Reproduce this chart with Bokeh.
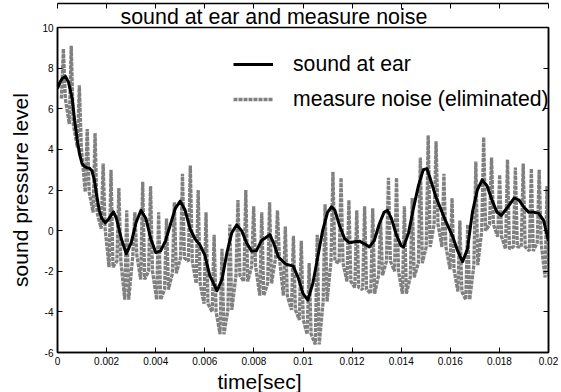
from bokeh.plotting import figure
from bokeh.models import LinearAxis, FixedTicker, Legend, LegendItem, Title, Range1d
from bokeh.embed import file_html
from bokeh.resources import INLINE

# ---- data ----
sound_t = [0.0, 0.0001, 0.0002, 0.00033, 0.00045, 0.0006, 0.0007, 0.0008, 0.0009, 0.001,
           0.0011, 0.0012, 0.0013, 0.0014, 0.0015, 0.0016, 0.0017, 0.0018, 0.00195, 0.0021,
           0.00228, 0.0024, 0.0026, 0.0028, 0.003, 0.0032, 0.0034, 0.0036, 0.0038, 0.004,
           0.0042, 0.0044, 0.0046, 0.0048, 0.005, 0.0052, 0.0054, 0.0056, 0.0058, 0.006,
           0.0062, 0.0065, 0.0067, 0.0069, 0.0071, 0.0073, 0.0075, 0.0077, 0.0079, 0.0081,
           0.0083, 0.00865, 0.0088, 0.009, 0.0093, 0.0096, 0.0098, 0.01, 0.0102, 0.0104,
           0.0106, 0.0108, 0.011, 0.01116, 0.0113, 0.0115, 0.0117, 0.0119, 0.0121, 0.0123,
           0.0125, 0.0127, 0.0129, 0.0131, 0.0133, 0.01344, 0.0136, 0.0138, 0.014, 0.0141,
           0.0143, 0.0145, 0.0147, 0.0149, 0.01505, 0.0152, 0.0154, 0.0156, 0.0158, 0.0161,
           0.0163, 0.0165, 0.0167, 0.0169, 0.0171, 0.0173, 0.0175, 0.0177, 0.0179, 0.01808,
           0.0183, 0.0186, 0.0188, 0.019, 0.0192, 0.0194, 0.0196, 0.0198, 0.02]
sound_v = [7.0, 7.3, 7.5, 7.58, 7.3, 6.5, 5.4, 4.5, 3.75, 3.3,
           3.15, 3.1, 3.08, 2.95, 2.5, 1.7, 1.0, 0.6, 0.38, 0.6,
           0.92, 0.6, -0.4, -1.14, -0.6, 0.4, 1.0, 0.6, -0.4, -1.08,
           -1.0, -0.5, 0.3, 1.1, 1.45, 1.0, 0.1, -0.4, -0.7, -1.2,
           -2.2, -2.96, -2.4, -1.1, -0.1, 0.28, 0.0, -0.6, -1.0, -1.0,
           -0.5, -0.2, -0.6, -1.3, -1.65, -1.75, -2.3, -3.1, -3.42, -2.6,
           -1.3, 0.0, 0.9, 1.17, 1.0, 0.2, -0.4, -0.6, -0.55, -0.52,
           -0.65, -0.8, -0.5, 0.3, 0.9, 1.0, 0.6, -0.2, -0.75, -0.8,
           -0.1, 1.1, 2.2, 3.0, 3.05, 2.5, 1.7, 1.1, 0.5, -0.3,
           -1.0, -1.53, -0.9, 0.9, 2.0, 2.5, 2.2, 1.5, 0.9, 0.75,
           1.1, 1.6, 1.5, 1.15, 0.9, 0.9, 0.85, 0.5, -0.5]

noise_t = [0.00024, 0.00056, 0.00089, 0.00121, 0.00153, 0.00186, 0.00218, 0.0025, 0.00282, 0.00315,
           0.00347, 0.00379, 0.00412, 0.00444, 0.00476, 0.00509, 0.00541, 0.00573, 0.00605, 0.00638,
           0.0067, 0.00702, 0.00735, 0.00767, 0.00799, 0.00832, 0.00864, 0.00896, 0.00928, 0.00961,
           0.00993, 0.01025, 0.01058, 0.0109, 0.01122, 0.01155, 0.01187, 0.01219, 0.01251, 0.01284,
           0.01316, 0.01348, 0.01381, 0.01413, 0.01445, 0.01478, 0.0151, 0.01542, 0.01574, 0.01607,
           0.01639, 0.01671, 0.01704, 0.01736, 0.01768, 0.01801, 0.01833, 0.01865, 0.01897, 0.0193,
           0.01962, 0.01994]
noise_hi = [8.95, 9.1, 7.15, 5.0, 4.8, 3.3, 3.0, 2.1, 1.0, 0.9,
            2.4, 2.2, 0.9, 0.6, 1.4, 2.8, 3.2, 2.0, 0.9, -0.2,
            -0.9, 0.3, 1.5, 2.0, 1.2, 0.9, 1.4, 1.0, 0.2, -0.25,
            -0.5, -1.6, -0.2, 1.3, 2.9, 2.6, 1.5, 1.0, 1.2, 1.1,
            0.5, 2.6, 2.6, 1.2, 1.6, 3.6, 4.7, 4.4, 2.8, 1.6,
            0.5, 0.3, 3.4, 4.6, 3.6, 2.75, 3.5, 3.1, 3.3, 3.05,
            3.0, 2.2]
noise_lo = [6.5, 5.25, 4.1, 1.9, 0.9, 0.1, -1.8, -1.5, -3.4, -1.2,
            -2.4, -2.0, -3.4, -2.9, -2.1, -1.35, -1.5, -2.6, -3.6, -4.0,
            -5.1, -3.9, -2.2, -2.5, -1.75, -3.2, -2.6, -1.35, -3.2, -3.9,
            -4.4, -5.1, -5.6, -3.5, -1.5, -1.6, -2.5, -2.8, -2.9, -3.1,
            -2.2, -1.5, -2.0, -3.1, -2.3, -1.6, -0.8, 0.3, -0.8, -1.9,
            -3.0, -3.4, -1.7, 0.0, 0.3, -0.3, -0.9, -0.8, -0.8, -1.0,
            -0.6, -2.3]

x_ticks = [0, 0.002, 0.004, 0.006, 0.008, 0.01, 0.012, 0.014, 0.016, 0.018, 0.02]
x_tick_labels = ["0", "0.002", "0.004", "0.006", "0.008", "0.01", "0.012", "0.014", "0.016", "0.018", "0.02"]
y_ticks = [-6, -4, -2, 0, 2, 4, 6, 8, 10]
y_tick_labels = ["-6", "-4", "-2", "0", "2", "4", "6", "8", "10"]

FONT = "Liberation Sans"

# ---- figure ----
p = figure(width=561, height=392, output_backend="svg", toolbar_location=None,
           x_range=Range1d(0, 0.02), y_range=Range1d(-6, 10),
           x_axis_location=None, y_axis_location=None,
           min_border_left=57, min_border_right=13, min_border_top=27, min_border_bottom=39)
p.grid.visible = False
p.outline_line_color = "black"
p.outline_line_width = 1.5
p.background_fill_color = "white"
p.border_fill_color = "white"

def make_axis(ticks, labels, show_labels):
    ax = LinearAxis(ticker=FixedTicker(ticks=ticks))
    ax.major_label_overrides = {t: (l if show_labels else "") for t, l in zip(ticks, labels)}
    ax.major_tick_in = 5
    ax.major_tick_out = 0
    ax.minor_tick_in = 0
    ax.minor_tick_out = 0
    ax.axis_line_color = "black"
    ax.axis_line_width = 1.5
    ax.major_tick_line_color = "black"
    ax.major_tick_line_width = 1
    ax.major_label_text_font = FONT
    ax.major_label_text_color = "black"
    if show_labels:
        ax.major_label_text_font_size = "10px"
    else:
        ax.major_label_text_font_size = "0px"
        ax.major_label_standoff = 0
    return ax

# title (added first so it sits outermost above)
p.add_layout(Title(text="sound at ear and measure noise", align="left", offset=63, standoff=-2,
                   text_font=FONT, text_font_size="21.4px", text_font_style="normal",
                   text_color="black"), "above")

xb = make_axis(x_ticks, x_tick_labels, True)
xb.major_label_standoff = 4
p.add_layout(xb, "below")

yl = make_axis(y_ticks, y_tick_labels, True)
yl.major_label_standoff = 4
yl.axis_label = "sound pressure level"
yl.axis_label_text_font = FONT
yl.axis_label_text_font_size = "21px"
yl.axis_label_text_font_style = "normal"
yl.axis_label_text_color = "black"
yl.axis_label_standoff = 7
p.add_layout(yl, "left")

p.add_layout(make_axis(x_ticks, x_tick_labels, False), "above")
p.add_layout(make_axis(y_ticks, y_tick_labels, False), "right")

# x-axis caption as a title below the axis
p.add_layout(Title(text="time[sec]", align="left", offset=160, standoff=0,
                   text_font=FONT, text_font_size="21px", text_font_style="normal",
                   text_color="black"), "below")

# ---- data glyphs ----
nx, ny = [], []
half = 0.00008
for t, hi, lo in zip(noise_t, noise_hi, noise_lo):
    nx += [t - half, t, t + half]
    ny += [lo, hi, lo]

r_noise = p.line(nx, ny, line_color="#808080", line_width=3.3, line_dash="4 1")
r_sound = p.line(sound_t, sound_v, line_color="black", line_width=3, line_join="round")

legend = Legend(items=[LegendItem(label="sound at ear", renderers=[r_sound]),
                       LegendItem(label="measure noise (eliminated)", renderers=[r_noise])],
                location=(176, 241), orientation="vertical")
legend.background_fill_alpha = 0
legend.border_line_alpha = 0
legend.padding = 0
legend.margin = 0
legend.spacing = 11
legend.glyph_width = 40
legend.label_standoff = 20
legend.label_text_font = FONT
legend.label_text_font_size = "21.2px"
legend.label_text_color = "black"
p.add_layout(legend, "center")

open("out.html", "w").write(file_html(p, INLINE))
